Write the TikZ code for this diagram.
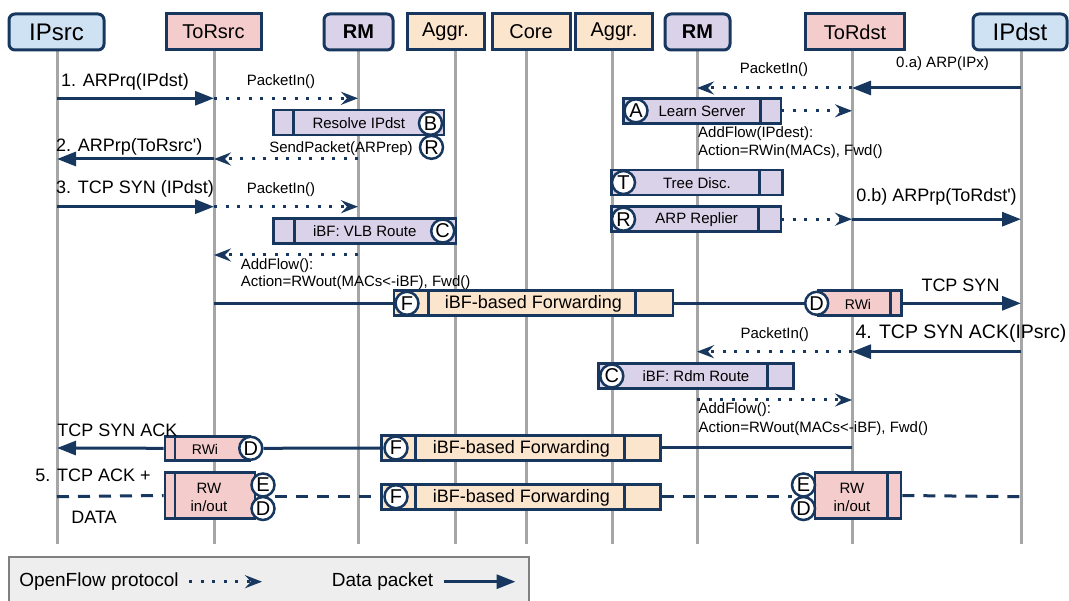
\documentclass[tikz,border=0pt]{standalone}
\usepackage{fontspec}
\setmainfont{Liberation Sans}
\usetikzlibrary{arrows.meta}
\definecolor{navy}{HTML}{17375E}
\definecolor{life}{HTML}{A6A6A6}
\definecolor{hostfill}{HTML}{CFE2F3}
\definecolor{torfill}{HTML}{F4CCCC}
\definecolor{rmfill}{HTML}{D9D2E9}
\definecolor{swfill}{HTML}{FCE5CD}
\definecolor{legfill}{HTML}{EEEEEE}
\definecolor{legdraw}{HTML}{808080}
\newcommand\fsz[2]{\fontsize{#1pt}{#2pt}\selectfont}
\def\LLa{57}\def\LLb{214}\def\LLc{358}\def\LLd{455}\def\LLe{526}\def\LLf{612}\def\LLg{697}\def\LLh{852}\def\LLi{1021}
\tikzset{
  hdr/.style={draw=navy, line width=3pt, minimum height=36pt, inner sep=0pt, font=\fsz{20}{24}},
  lifeln/.style={draw=life, line width=3pt},
  datamsg/.style={draw=navy, line width=3pt, -{Triangle[length=19pt,width=14pt]}},
  ofmsg/.style={draw=navy, line width=3pt, dash pattern=on 3pt off 8.5pt, -{Stealth[length=17pt,width=13pt,inset=6pt]}},
  plainln/.style={draw=navy, line width=3pt},
  dashln/.style={draw=navy, line width=3pt, dash pattern=on 12pt off 9pt},
  pbox/.style={draw=navy, line width=2.8pt, inner sep=0pt, minimum height=25pt},
  pdiv/.style={draw=navy, line width=2.8pt},
  badge/.style={circle, draw=navy, fill=white, line width=2.5pt, minimum size=23pt, inner sep=0pt, font=\fsz{20}{20}},
  lbl/.style={inner sep=0pt, font=\fsz{18}{21}},
  slbl/.style={inner sep=0pt, font=\fsz{15}{18}}
}
\begin{document}
\begin{tikzpicture}[x=1pt,y=-1pt]
\useasboundingbox (0,0) rectangle (1069,601);
% lifelines
\foreach \n/\xx in {1/\LLa,2/\LLb,3/\LLc,4/\LLd,5/\LLe,6/\LLf,7/\LLg,8/\LLh,9/\LLi}{
  \coordinate (lt\n) at (\xx,50);
  \coordinate (lb\n) at (\xx,544);
  \draw[lifeln] (lt\n) -- (lb\n);
}
% headers
\node[hdr, rounded corners=6pt, fill=hostfill, minimum width=95pt, font=\fsz{24}{28}] (ipsrc) at (56.5,32) {IPsrc};
\node[hdr, fill=torfill, minimum width=95pt] (torsrc) at (213.5,32) {ToRsrc};
\node[hdr, rounded corners=6pt, fill=rmfill, minimum width=69pt, font=\fsz{20}{24}\bfseries] (rma) at (358.5,32) {RM};
\node[hdr, fill=swfill, minimum width=77pt] (agga) at (445.5,32) {Aggr.};
\node[hdr, fill=swfill, minimum width=78pt] (core) at (531,32) {Core};
\node[hdr, fill=swfill, minimum width=77pt] (aggb) at (614,32) {Aggr.};
\node[hdr, rounded corners=6pt, fill=rmfill, minimum width=65pt, font=\fsz{20}{24}\bfseries] (rmb) at (697.5,32) {RM};
\node[hdr, fill=torfill, minimum width=99pt] (tordst) at (855,32) {ToRdst};
\node[hdr, rounded corners=6pt, fill=hostfill, minimum width=94pt, font=\fsz{24}{28}] (ipdst) at (1020,32) {IPdst};

% row 0.a
\coordinate (r0i) at (\LLi,88); \coordinate (r0h) at (\LLh,88); \coordinate (r0g) at (\LLg,88);
\draw[datamsg] (r0i) -- (r0h);
\draw[ofmsg] (r0h) -- (r0g);
\node[slbl] (t0a) at (942.5,63.5) {0.a) ARP(IPx)};
\node[slbl] (t0p) at (774,70) {PacketIn()};
% Learn server
\coordinate (r0x) at (\LLh,110.8);
\draw[ofmsg] (781,110.8) coordinate (learnE) -- (r0x);
\node[pbox, fill=rmfill, minimum width=157.5pt] (learn) at (702.25,110.8) {};
\draw[pdiv] ([xshift=138.5pt]learn.north west) -- ([xshift=138.5pt]learn.south west);
\node[slbl] (learnt) at (702,111.3) {Learn Server};
\node[badge] (bA) at (636,110.8) {A};
\node[slbl, anchor=west] (af1) at (698,133.3) {AddFlow(IPdest):};
\node[slbl, anchor=west] (af2) at (698,151.7) {Action=RWin(MACs), Fwd()};

% row 1
\coordinate (r1a) at (\LLa,98.3); \coordinate (r1b) at (\LLb,98.3); \coordinate (r1c) at (\LLc,98.3);
\draw[datamsg] (r1a) -- (r1b);
\draw[ofmsg] (r1b) -- (r1c);
\node[lbl, anchor=west] (t1) at (61,81.7) {1. ARPrq(IPdst)};
\node[slbl] (t1p) at (281,82) {PacketIn()};
% resolve
\node[pbox, fill=rmfill, minimum width=170.7pt] (resolve) at (358.65,122.5) {};
\draw[pdiv] ([xshift=21.7pt]resolve.north west) -- ([xshift=21.7pt]resolve.south west);
\node[slbl] (resolvet) at (358.8,123) {Resolve IPdst};
\node[badge] (bB) at (430.5,123.3) {B};
\node[badge] (bR1) at (431.5,147.3) {R};
\node[slbl] (tsend) at (341,148.3) {SendPacket(ARPrep)};

% row 2
\coordinate (r2c) at (\LLc,159); \coordinate (r2b) at (\LLb,159); \coordinate (r2a) at (\LLa,159);
\draw[ofmsg] (r2c) -- (r2b);
\draw[datamsg] (r2b) -- (r2a);
\node[lbl, anchor=west] (t2) at (56,147.3) {2. ARPrp(ToRsrc\textquotesingle)};

% tree disc + arp replier
\node[pbox, fill=rmfill, minimum width=171.2pt] (tree) at (697.1,182.5) {};
\draw[pdiv] ([xshift=149.5pt]tree.north west) -- ([xshift=149.5pt]tree.south west);
\node[slbl] (treet) at (697,183) {Tree Disc.};
\node[badge] (bT) at (623.5,182.5) {T};
\coordinate (r0bh) at (\LLh,219.2); \coordinate (r0bi) at (\LLi,219.2);
\draw[ofmsg] (781,219.2) coordinate (arpE) -- (r0bh);
\draw[datamsg] (r0bh) -- (r0bi);
\node[pbox, fill=rmfill, minimum width=169.5pt] (arp) at (696.25,219.2) {};
\draw[pdiv] ([xshift=148.1pt]arp.north west) -- ([xshift=148.1pt]arp.south west);
\node[slbl] (arpt) at (696.7,219.7) {ARP Replier};
\node[badge] (bR2) at (623.5,219.2) {R};
\node[lbl] (t0b) at (936.5,196.7) {0.b) ARPrp(ToRdst\textquotesingle)};

% row 3
\coordinate (r3a) at (\LLa,206.7); \coordinate (r3b) at (\LLb,206.7); \coordinate (r3c) at (\LLc,206.7);
\draw[datamsg] (r3a) -- (r3b);
\draw[ofmsg] (r3b) -- (r3c);
\node[lbl, anchor=west] (t3) at (56,189.3) {3. TCP SYN (IPdst)};
\node[slbl] (t3p) at (281,190) {PacketIn()};
\node[pbox, fill=rmfill, minimum width=182.7pt] (vlb) at (364.65,230.8) {};
\draw[pdiv] ([xshift=22.7pt]vlb.north west) -- ([xshift=22.7pt]vlb.south west);
\node[slbl] (vlbt) at (364.7,231.3) {iBF: VLB Route};
\node[badge] (bC1) at (442.7,231) {C};
\coordinate (r3rc) at (\LLc,255); \coordinate (r3rb) at (\LLb,255);
\draw[ofmsg] (r3rc) -- (r3rb);
\node[slbl, anchor=west] (af3) at (240.7,265.7) {AddFlow():};
\node[slbl, anchor=west] (af4) at (240.7,282.7) {Action=RWout(MACs<-iBF), Fwd()};

% TCP SYN forwarding row
\coordinate (r5b) at (\LLb,303.3); \coordinate (r5i) at (\LLi,303.3);
\node[pbox, fill=swfill, minimum width=279pt] (fwd1) at (533.5,303.3) {};
\node[pbox, fill=torfill, minimum width=83.7pt] (rwiR) at (859.85,303.3) {};
\node[badge] (bD1) at (816.7,303.3) {D};
\draw[plainln] (r5b) -- (fwd1.west);
\draw[plainln] (fwd1.east) -- (bD1.west);
\draw[datamsg] (rwiR.east) -- (r5i);
\draw[pdiv] ([xshift=36pt]fwd1.north west) -- ([xshift=36pt]fwd1.south west);
\draw[pdiv] ([xshift=243pt]fwd1.north west) -- ([xshift=243pt]fwd1.south west);
\node[lbl] (fwd1t) at (533.5,304) {iBF-based Forwarding};
\node[badge] (bF1) at (407,303.3) {F};
\draw[pdiv] ([xshift=73.7pt]rwiR.north west) -- ([xshift=73.7pt]rwiR.south west);
\node[inner sep=0pt, font=\fsz{14}{16}] (rwiRt) at (858,304) {RWi};
\node[lbl] (tsyn) at (960.5,285) {TCP SYN};

% row 4
\coordinate (r4i) at (\LLi,351.7); \coordinate (r4h) at (\LLh,351.7); \coordinate (r4g) at (\LLg,351.7);
\draw[datamsg] (r4i) -- (r4h);
\draw[ofmsg] (r4h) -- (r4g);
\node[inner sep=0pt, font=\fsz{19.5}{22}] (t4) at (961,333.3) {4. TCP SYN ACK(IPsrc)};
\node[slbl] (t4p) at (774.8,335) {PacketIn()};
\node[pbox, fill=rmfill, minimum width=194.9pt] (rdm) at (696.25,375.8) {};
\draw[pdiv] ([xshift=170.2pt]rdm.north west) -- ([xshift=170.2pt]rdm.south west);
\node[slbl] (rdmt) at (696,376.3) {iBF: Rdm Route};
\node[badge] (bC2) at (611.8,376) {C};
\coordinate (r4rg) at (\LLg,400); \coordinate (r4rh) at (\LLh,400);
\draw[ofmsg] (r4rg) -- (r4rh);
\node[slbl, anchor=west] (af5) at (698.4,410) {AddFlow():};
\node[slbl, anchor=west] (af6) at (698.4,428.3) {Action=RWout(MACs<-iBF), Fwd()};

% SYN ACK row
\coordinate (r6h) at (\LLh,448); \coordinate (r6a) at (\LLa,448);
\node[pbox, fill=swfill, minimum width=279pt] (fwd2) at (521.2,448) {};
\node[pbox, fill=torfill, minimum width=85pt, minimum height=24pt] (rwiL) at (207.5,448.3) {};
\node[badge] (bD2) at (250.8,448.3) {D};
\draw[plainln] (r6h) -- (fwd2.east);
\draw[plainln] (fwd2.west) -- (bD2.east);
\draw[datamsg] (rwiL.west) -- (r6a);
\draw[pdiv] ([xshift=35pt]fwd2.north west) -- ([xshift=35pt]fwd2.south west);
\draw[pdiv] ([xshift=244.3pt]fwd2.north west) -- ([xshift=244.3pt]fwd2.south west);
\node[lbl] (fwd2t) at (521.5,448.7) {iBF-based Forwarding};
\node[badge] (bF2) at (396,448) {F};
\draw[pdiv] ([xshift=11.3pt]rwiL.north west) -- ([xshift=11.3pt]rwiL.south west);
\node[inner sep=0pt, font=\fsz{14}{16}] (rwiLt) at (205,449) {RWi};
\node[lbl] (tsynack) at (117.5,430) {TCP SYN ACK};

% DATA row
\coordinate (r7a) at (\LLa,496.7); \coordinate (r7i) at (\LLi,496.7);
\coordinate (dl2) at (275,496.7); \coordinate (dl3) at (791.5,496.7);
\node[pbox, fill=torfill, minimum width=90pt, minimum height=46pt] (rwL) at (210,495.5) {};
\node[pbox, fill=swfill, minimum width=279pt] (fwd3) at (521.2,496.7) {};
\node[pbox, fill=torfill, minimum width=86pt, minimum height=46pt] (rwR) at (858,495.5) {};
\draw[dashln] (r7a) -- (rwL.west);
\draw[dashln] (dl2) -- (fwd3.west);
\draw[dashln] (fwd3.east) -- (dl3);
\draw[dashln] (rwR.east) -- (r7i);
\draw[pdiv] ([xshift=11.3pt]rwL.north west) -- ([xshift=11.3pt]rwL.south west);
\node[inner sep=0pt, align=center, font=\fsz{15}{18.5}] (rwLt) at (209,497.5) {RW\\in/out};
\node[badge] (bE1) at (263,485) {E};
\node[badge] (bD3) at (263,508.5) {D};
\draw[pdiv] ([xshift=35pt]fwd3.north west) -- ([xshift=35pt]fwd3.south west);
\draw[pdiv] ([xshift=244.3pt]fwd3.north west) -- ([xshift=244.3pt]fwd3.south west);
\node[lbl] (fwd3t) at (521.5,497.4) {iBF-based Forwarding};
\node[badge] (bF3) at (396,496.7) {F};
\draw[pdiv] ([xshift=74pt]rwR.north west) -- ([xshift=74pt]rwR.south west);
\node[inner sep=0pt, align=center, font=\fsz{15}{18.5}] (rwRt) at (852,497.5) {RW\\in/out};
\node[badge] (bE2) at (803.5,485) {E};
\node[badge] (bD4) at (803.5,508.5) {D};
\node[lbl] (t5) at (93,475) {5. TCP ACK +};
\node[lbl] (tdata) at (94,517.3) {DATA};

% legend
\node[draw=legdraw, fill=legfill, line width=2pt, minimum width=520pt, minimum height=60pt, anchor=north west, inner sep=0pt] (legend) at (8,556) {};
\node[inner sep=0pt, font=\fsz{19}{22}] (lg1t) at (99,581.7) {OpenFlow protocol};
\coordinate (lg1) at (189,581.7); \coordinate (lg2) at (262,581.7);
\draw[ofmsg] (lg1) -- (lg2);
\node[inner sep=0pt, font=\fsz{19}{22}] (lg2t) at (382.6,581.7) {Data packet};
\coordinate (lg3) at (443.5,581.7); \coordinate (lg4) at (515.5,581.7);
\draw[datamsg] (lg3) -- (lg4);
\end{tikzpicture}
\end{document}
